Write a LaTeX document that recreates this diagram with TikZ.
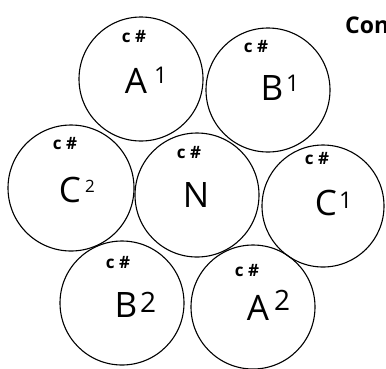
\documentclass[tikz,border=0pt]{standalone}
\usepackage{fontspec}
\setmainfont{Open Sans}
\begin{document}
\begin{tikzpicture}[x=1pt,y=-1pt,
  ring/.style={circle,draw,line width=1.1pt,inner sep=0pt,minimum size=#1},
  big/.style={anchor=base,inner sep=0pt,font=\fontsize{35}{35}\selectfont},
  sup/.style={anchor=base west,inner sep=0pt,font=\fontsize{#1}{#1}\selectfont},
  sup/.default=23,
  tag/.style={anchor=base,inner sep=0pt,font=\bfseries\fontsize{17}{17}\selectfont}]
\useasboundingbox (0,0) rectangle (386,368);
\clip (0,0) rectangle (386,368);
% circles
\node[ring=124pt] (cA1) at (141,79) {};
\node[ring=124pt] (cB1) at (268,90) {};
\node[ring=126pt] (cC2) at (71,188) {};
\node[ring=124pt] (cN)  at (197,195) {};
\node[ring=122pt] (cC1) at (323,206) {};
\node[ring=124pt] (cB2) at (122,303) {};
\node[ring=124pt] (cA2) at (253,307) {};
% small tags
\node[tag] (tA1) at (134,42) {c \#};
\node[tag] (tB1) at (256,52) {c \#};
\node[tag] (tC2) at (65,149) {c \#};
\node[tag] (tN)  at (189,158) {c \#};
\node[tag] (tC1) at (317,164) {c \#};
\node[tag] (tB2) at (118,268) {c \#};
\node[tag] (tA2) at (247,276) {c \#};
% main letters
\node[big] (lA1) at (136,93) {A};
\node[sup] (sA1) at (154,83) {1};
\node[big] (lB1) at (272,100) {B};
\node[sup] (sB1) at (286,91) {1};
\node[big] (lC2) at (70,202) {C};
\node[sup=17] (sC2) at (85,192) {2};
\node[big] (lN)  at (196,207) {N};
\node[big] (lC1) at (326,215) {C};
\node[sup] (sC1) at (339,208) {1};
\node[big] (lB2) at (126,317) {B};
\node[sup=28] (sB2) at (140,312) {2};
\node[big] (lA2) at (258,320) {A};
\node[sup=28] (sA2) at (274,310) {2};
% cut-off title
\node[anchor=base west,inner sep=0pt,font=\bfseries\fontsize{23}{23}\selectfont] (title) at (345,33) {Con};
\end{tikzpicture}
\end{document}
